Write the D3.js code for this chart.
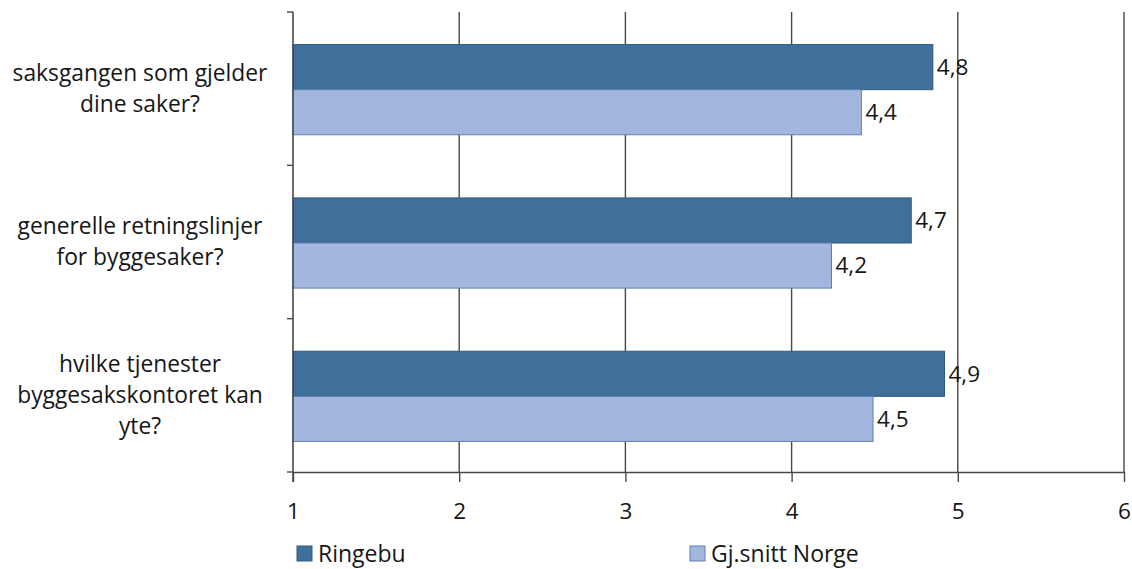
<!DOCTYPE html>
<html><head><meta charset="utf-8">
<script src="https://cdn.jsdelivr.net/npm/d3@7"></script>
<style>
html,body{margin:0;padding:0;background:#fff;}
text{font-family:"Open Sans","Noto Sans",sans-serif;fill:#161616;}
</style></head>
<body><svg id="c" width="1132" height="569"></svg>
<script>
const categories = [
  ["saksgangen som gjelder","dine saker?"],
  ["generelle retningslinjer","for byggesaker?"],
  ["hvilke tjenester","byggesakskontoret kan","yte?"]
];
const seriesNames = ["Ringebu","Gj.snitt Norge"];
const ringebu = [4.85, 4.72, 4.92];
const norge = [4.42, 4.24, 4.49];
const ringebuLabels = ["4,8","4,7","4,9"];
const norgeLabels = ["4,4","4,2","4,5"];
const xTicks = [1,2,3,4,5,6];

const colors = ["#3f6f9a","#a3b6de"];
const strokes = ["#2f5b82","#5f7fb4"];

const svg = d3.select("#c");
const mLeft = 293, mRight = 1124, mTop = 12, mBottom = 472;
const x = d3.scaleLinear().domain([1,6]).range([mLeft,mRight]);
const y0 = d3.scaleBand().domain(d3.range(categories.length)).range([mTop,mBottom]).padding(0);
const y1 = d3.scaleBand().domain([0,1]).range([0,y0.bandwidth()]).paddingInner(0).paddingOuter(0.7);

// gridlines
svg.append("g").selectAll("line").data(xTicks.slice(1)).join("line")
  .attr("x1",d=>x(d)).attr("x2",d=>x(d)).attr("y1",mTop).attr("y2",mBottom)
  .attr("stroke","#484848").attr("stroke-width",1.4);

// bars
const data = categories.map((c,i)=>({i, vals:[ringebu[i],norge[i]], labs:[ringebuLabels[i],norgeLabels[i]]}));
const g = svg.append("g").selectAll("g").data(data).join("g")
  .attr("transform",d=>`translate(0,${y0(d.i)})`);
g.selectAll("rect").data(d=>d.vals.map((v,k)=>({v,k}))).join("rect")
  .attr("x",x(1)).attr("y",d=>y1(d.k)+1).attr("width",d=>x(d.v)-x(1)).attr("height",y1.bandwidth())
  .attr("fill",d=>colors[d.k]).attr("stroke",d=>strokes[d.k]).attr("stroke-width",1);
g.selectAll("text.v").data(d=>d.vals.map((v,k)=>({v,k,l:d.labs[k]}))).join("text")
  .attr("class","v").attr("x",d=>x(d.v)+4).attr("y",d=>y1(d.k)+y1.bandwidth()/2+1)
  .attr("dy","0.35em").attr("font-size",22.5).text(d=>d.l);

// x axis
const xa = svg.append("g").attr("transform",`translate(0,${mBottom})`)
  .call(d3.axisBottom(x).tickValues(xTicks).tickSize(10).tickSizeOuter(0).tickPadding(21).tickFormat(d3.format("d")));
xa.select(".domain").attr("stroke","#484848").attr("stroke-width",1.6);
xa.selectAll(".tick line").attr("stroke","#484848").attr("stroke-width",1.4);
xa.selectAll("text").attr("font-size",22.5).attr("fill","#161616").style("font-family","'Open Sans',sans-serif");

// y axis
const yTickPos = d3.range(categories.length+1).map(i=> mTop + i*y0.step());
svg.append("line").attr("x1",mLeft).attr("x2",mLeft).attr("y1",mTop).attr("y2",mBottom+10)
  .attr("stroke","#484848").attr("stroke-width",1.6);
svg.append("g").selectAll("line").data(yTickPos).join("line")
  .attr("x1",mLeft-6).attr("x2",mLeft).attr("y1",d=>d).attr("y2",d=>d)
  .attr("stroke","#484848").attr("stroke-width",1.4);

// category labels
const lh = 31;
categories.forEach((lines,i)=>{
  const cy = y0(i)+y0.bandwidth()/2;
  const t = svg.append("text").attr("text-anchor","middle").attr("font-size",22.8);
  lines.forEach((ln,j)=>{
    t.append("tspan").attr("x",140).attr("y",cy + (j-(lines.length-1)/2)*lh).attr("dy","0.35em").text(ln);
  });
});

// legend
const legX = [297, 690];
seriesNames.forEach((n,k)=>{
  svg.append("rect").attr("x",legX[k]).attr("y",546).attr("width",15).attr("height",15)
    .attr("fill",colors[k]).attr("stroke",strokes[k]);
  svg.append("text").attr("x",legX[k]+21).attr("y",554).attr("dy","0.35em").attr("font-size",23).text(n);
});
</script></body></html>
